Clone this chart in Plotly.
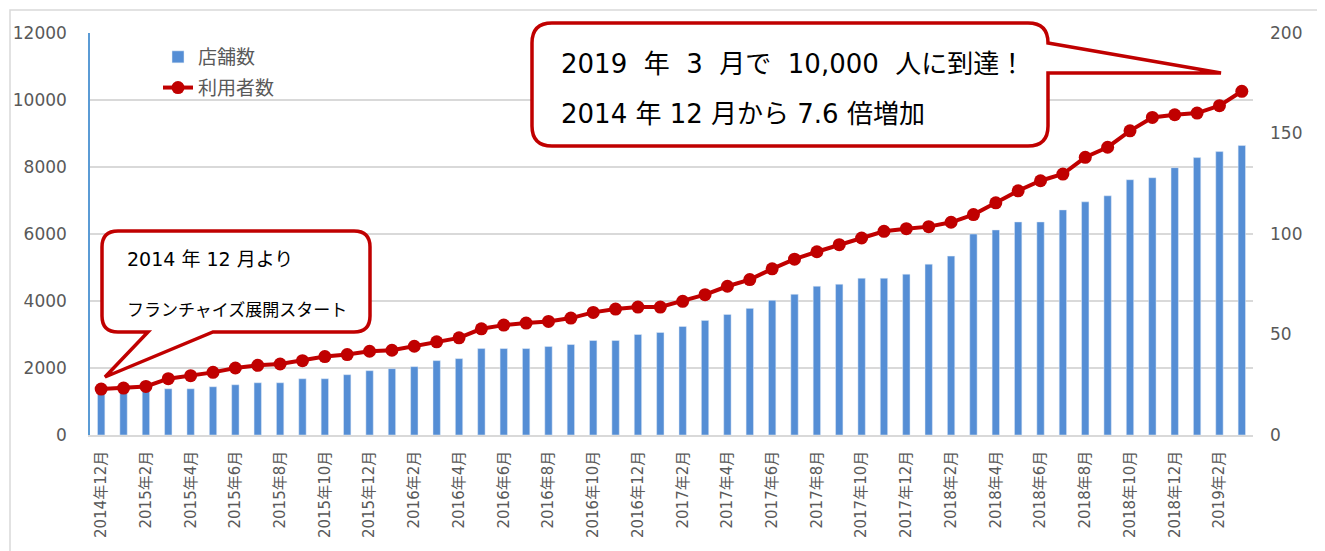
import plotly.graph_objects as go

# ---------------- data ----------------
months = [
    "2014年12月", "2015年1月", "2015年2月", "2015年3月", "2015年4月", "2015年5月",
    "2015年6月", "2015年7月", "2015年8月", "2015年9月", "2015年10月", "2015年11月",
    "2015年12月", "2016年1月", "2016年2月", "2016年3月", "2016年4月", "2016年5月",
    "2016年6月", "2016年7月", "2016年8月", "2016年9月", "2016年10月", "2016年11月",
    "2016年12月", "2017年1月", "2017年2月", "2017年3月", "2017年4月", "2017年5月",
    "2017年6月", "2017年7月", "2017年8月", "2017年9月", "2017年10月", "2017年11月",
    "2017年12月", "2018年1月", "2018年2月", "2018年3月", "2018年4月", "2018年5月",
    "2018年6月", "2018年7月", "2018年8月", "2018年9月", "2018年10月", "2018年11月",
    "2018年12月", "2019年1月", "2019年2月", "2019年3月",
]

tick_labels = [
    "2014年12月", "2015年2月", "2015年4月", "2015年6月", "2015年8月", "2015年10月",
    "2015年12月", "2016年2月", "2016年4月", "2016年6月", "2016年8月", "2016年10月",
    "2016年12月", "2017年2月", "2017年4月", "2017年6月", "2017年8月", "2017年10月",
    "2017年12月", "2018年2月", "2018年4月", "2018年6月", "2018年8月", "2018年10月",
    "2018年12月", "2019年2月",
]

stores = [
    21, 21, 22, 23, 23, 24, 25, 26, 26, 28, 28, 30,
    32, 33, 34, 37, 38, 43, 43, 43, 44, 45, 47, 47,
    50, 51, 54, 57, 60, 63, 67, 70, 74, 75, 78, 78,
    80, 85, 89, 100, 102, 106, 106, 112, 116, 119, 127, 128,
    133, 138, 141, 144,
]

users = [
    1370, 1400, 1450, 1680, 1770, 1870, 2000, 2080, 2120, 2220, 2340, 2400,
    2500, 2530, 2650, 2780, 2900, 3170, 3280, 3340, 3390, 3490, 3660, 3760,
    3820, 3820, 3990, 4190, 4440, 4640, 4960, 5250, 5470, 5680, 5880, 6080,
    6160, 6220, 6350, 6580, 6930, 7290, 7590, 7790, 8290, 8590, 9080, 9480,
    9560, 9610, 9830, 10260,
]

left_ticks = [0, 2000, 4000, 6000, 8000, 10000, 12000]
right_ticks = [0, 50, 100, 150, 200]

# ---------------- layout helpers (screen pixel -> paper) ----------------
SCREEN_W, SCREEN_H = 1325, 551
OFF = 8                      # default page body margin
PLOT_L, PLOT_R, PLOT_T, PLOT_B = 90, 1253, 33, 435   # plot area in screen pixels
W, H = SCREEN_W - OFF, SCREEN_H - OFF
ML, MT = PLOT_L - OFF, PLOT_T - OFF
MR, MB = W - (PLOT_R - OFF), H - (PLOT_B - OFF)
PW, PH = PLOT_R - PLOT_L, PLOT_B - PLOT_T


def px(x):
    return (x - PLOT_L) / PW


def py(y):
    return (PLOT_B - y) / PH


def path_from(cmds):
    out = []
    for c in cmds:
        if c[0] == "Z":
            out.append("Z")
        else:
            op = c[0]
            pts = c[1:]
            s = " ".join(f"{px(pts[i]):.5f},{py(pts[i+1]):.5f}" for i in range(0, len(pts), 2))
            out.append(f"{op} {s}")
    return " ".join(out)


RED = "#c00000"
BLUE = "#558ed5"
GRID = "#d9d9d9"
TXT = "#595959"
FONT = "DejaVu Sans, Noto Sans CJK JP, sans-serif"

fig = go.Figure()

fig.add_trace(go.Bar(
    x=months, y=stores, name="店舗数", marker_color=BLUE,
    yaxis="y", legendgroup="a",
))
fig.add_trace(go.Scatter(
    x=months, y=users, name="利用者数", mode="lines+markers",
    line=dict(color=RED, width=4), marker=dict(color=RED, size=13),
    yaxis="y2", legendgroup="b",
))

# callout 1 (bottom-left)
L1, R1, T1, B1, r1 = 102, 370, 231, 332, 16
c1 = path_from([
    ("M", L1 + r1, T1), ("L", R1 - r1, T1), ("Q", R1, T1, R1, T1 + r1),
    ("L", R1, B1 - r1), ("Q", R1, B1, R1 - r1, B1),
    ("L", 213, B1), ("L", 105, 377), ("L", 148, B1),
    ("L", L1 + r1, B1), ("Q", L1, B1, L1, B1 - r1),
    ("L", L1, T1 + r1), ("Q", L1, T1, L1 + r1, T1), ("Z",),
])

# callout 2 (top-right)
L2, R2, T2, B2, r2 = 532, 1048, 23, 146, 20
c2 = path_from([
    ("M", L2 + r2, T2), ("L", R2 - r2, T2), ("Q", R2, T2, R2, T2 + r2),
    ("L", 1221, 73), ("L", R2, 73),
    ("L", R2, B2 - r2), ("Q", R2, B2, R2 - r2, B2),
    ("L", L2 + r2, B2), ("Q", L2, B2, L2, B2 - r2),
    ("L", L2, T2 + r2), ("Q", L2, T2, L2 + r2, T2), ("Z",),
])

shapes = [
    dict(type="rect", xref="paper", yref="paper", x0=px(10), x1=px(1323), y0=py(10), y1=py(570),
         line=dict(color=GRID, width=1.5), fillcolor="rgba(0,0,0,0)", layer="below"),
    dict(type="path", xref="paper", yref="paper", path=c1,
         line=dict(color=RED, width=3.5), fillcolor="white", layer="above"),
    dict(type="path", xref="paper", yref="paper", path=c2,
         line=dict(color=RED, width=3.5), fillcolor="white", layer="above"),
]

annotations = [
    dict(xref="paper", yref="paper", x=px(125), y=py(259), xanchor="left", yanchor="middle",
         text="2014 年 12 月より", showarrow=False, font=dict(family=FONT, size=19, color="black")),
    dict(xref="paper", yref="paper", x=px(125), y=py(310), xanchor="left", yanchor="middle",
         text="フランチャイズ展開スタート", showarrow=False, font=dict(family=FONT, size=17, color="black")),
    dict(xref="paper", yref="paper", x=px(559), y=py(64), xanchor="left", yanchor="middle",
         text="2019  年  3  月で  10,000  人に到達！", showarrow=False,
         font=dict(family=FONT, size=26, color="black")),
    dict(xref="paper", yref="paper", x=px(559), y=py(114), xanchor="left", yanchor="middle",
         text="2014 年 12 月から 7.6 倍増加", showarrow=False,
         font=dict(family=FONT, size=26, color="black")),
]

fig.update_layout(
    width=W, height=H,
    margin=dict(l=ML, r=MR, t=MT, b=MB, pad=0, autoexpand=False),
    paper_bgcolor="white", plot_bgcolor="white",
    font=dict(family=FONT, color=TXT),
    bargap=0.67,
    showlegend=True,
    legend=dict(
        x=px(158), y=py(38), xanchor="left", yanchor="top",
        bgcolor="rgba(0,0,0,0)", font=dict(family=FONT, size=19, color=TXT),
        traceorder="grouped", tracegroupgap=3,
    ),
    xaxis=dict(
        type="category", categoryorder="array", categoryarray=months,
        tickmode="array", tickvals=months[::2], ticktext=tick_labels,
        tickangle=-90, tickfont=dict(family=FONT, size=15, color=TXT),
        showgrid=False, showline=True, linecolor=GRID, linewidth=1.5,
        ticks="", ticklabelstandoff=8, range=[-0.5, len(months) - 0.5],
        automargin=False,
    ),
    yaxis=dict(
        side="right", range=[0, 200], tickvals=right_ticks,
        tickfont=dict(family=FONT, size=17, color=TXT),
        showgrid=False, zeroline=False, showline=False, ticks="",
        ticklabelstandoff=16, automargin=False,
    ),
    yaxis2=dict(
        side="left", overlaying="y", range=[0, 12000], tickvals=left_ticks, tickformat="d",
        tickfont=dict(family=FONT, size=17, color=TXT),
        showgrid=True, gridcolor=GRID, gridwidth=1.5, zeroline=False,
        showline=True, linecolor="#5b9bd5", linewidth=1.5, ticks="",
        ticklabelstandoff=18, automargin=False,
    ),
    shapes=shapes,
    annotations=annotations,
)

fig.write_html("out.html")
